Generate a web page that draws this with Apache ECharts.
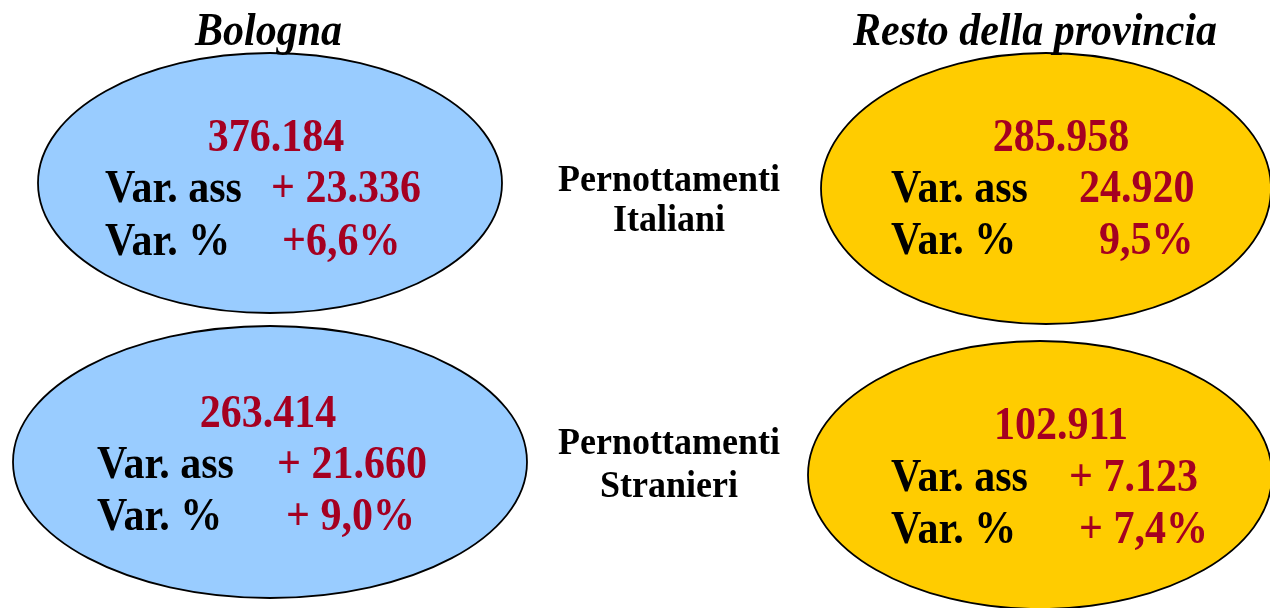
<!DOCTYPE html>
<html>
<head>
<meta charset="utf-8">
<script src="https://cdn.jsdelivr.net/npm/echarts@6/dist/echarts.min.js"></script>
<style>
html,body{margin:0;padding:0;background:#fff;}
#chart{width:1270px;height:608px;}
</style>
</head>
<body>
<div id="chart"></div>
<script>
// ---- data ----
const columnTitles = ['Bologna', 'Resto della provincia'];
const rowLabels = [['Pernottamenti', 'Italiani'], ['Pernottamenti', 'Stranieri']];
const totalsBologna = ['376.184', '263.414'];
const totalsResto = ['285.958', '102.911'];
const varAssBologna = ['+ 23.336', '+ 21.660'];
const varAssResto = ['24.920', '+ 7.123'];
const varPctBologna = ['+6,6%', '+ 9,0%'];
const varPctResto = ['9,5%', '+ 7,4%'];
const labelAss = 'Var. ass';
const labelPct = 'Var. %';

// ---- layout (positions / styles) ----
const FONT = '"Liberation Serif", "Times New Roman", serif';
const RED = '#A50021';
const colors = ['#99CCFF', '#FFCC00'];
const titlePos = [[268.5, 47], [1035, 47]];
const rowLabelPos = [[669, 193, 233], [669, 456, 499]];
// per cell [row][col]
const cellLayout = [
  [
    {cx: 270, cy: 183, rx: 232, ry: 130, numX: 276, numY: 153, labX: 105, y2: 204, y3: 257, v2: 271, v3: 282},
    {cx: 1046, cy: 188.5, rx: 225, ry: 135.5, numX: 1061, numY: 153, labX: 891, y2: 204, y3: 256, v2: 1079, v3: 1099}
  ],
  [
    {cx: 270, cy: 462, rx: 257, ry: 136, numX: 268, numY: 429, labX: 97, y2: 480, y3: 532, v2: 277, v3: 286},
    {cx: 1040, cy: 475, rx: 232, ry: 134, numX: 1061, numY: 441, labX: 891, y2: 493, y3: 545, v2: 1069, v3: 1079}
  ]
];
const SCALE_Y = 1.08;

function txt(text, x, baseline, size, opts) {
  opts = opts || {};
  const mid = baseline - 0.305 * size;
  return {
    type: 'text',
    z: 10,
    scaleY: SCALE_Y,
    originX: x,
    originY: baseline,
    style: {
      text: text,
      x: x,
      y: mid,
      font: (opts.italic ? 'italic ' : '') + 'bold ' + size + 'px ' + FONT,
      fill: opts.fill || '#000',
      textAlign: opts.align || 'left',
      textVerticalAlign: 'middle',
      align: opts.align || 'left',
      verticalAlign: 'middle'
    }
  };
}

const totals = [totalsBologna, totalsResto];
const varAss = [varAssBologna, varAssResto];
const varPct = [varPctBologna, varPctResto];

const elements = [];
for (let r = 0; r < 2; r++) {
  for (let c = 0; c < 2; c++) {
    const L = cellLayout[r][c];
    elements.push({
      type: 'ellipse',
      z: 1,
      shape: {cx: L.cx, cy: L.cy, rx: L.rx, ry: L.ry},
      style: {fill: colors[c], stroke: '#000', lineWidth: 1.8}
    });
    elements.push(txt(totals[c][r], L.numX, L.numY, 42, {fill: RED, align: 'center'}));
    elements.push(txt(labelAss, L.labX, L.y2, 42));
    elements.push(txt(varAss[c][r], L.v2, L.y2, 42, {fill: RED}));
    elements.push(txt(labelPct, L.labX, L.y3, 42));
    elements.push(txt(varPct[c][r], L.v3, L.y3, 42, {fill: RED}));
  }
}
columnTitles.forEach(function (t, i) {
  elements.push(txt(t, titlePos[i][0], titlePos[i][1], 42, {italic: true, align: 'center'}));
});
rowLabels.forEach(function (lines, i) {
  const p = rowLabelPos[i];
  elements.push(txt(lines[0], p[0], p[1], 36, {align: 'center'}));
  elements.push(txt(lines[1], p[0], p[2], 36, {align: 'center'}));
});

const chart = echarts.init(document.getElementById('chart'), null, {renderer: 'canvas'});
chart.setOption({
  backgroundColor: '#ffffff',
  animation: false,
  graphic: {elements: elements}
});
</script>
</body>
</html>
